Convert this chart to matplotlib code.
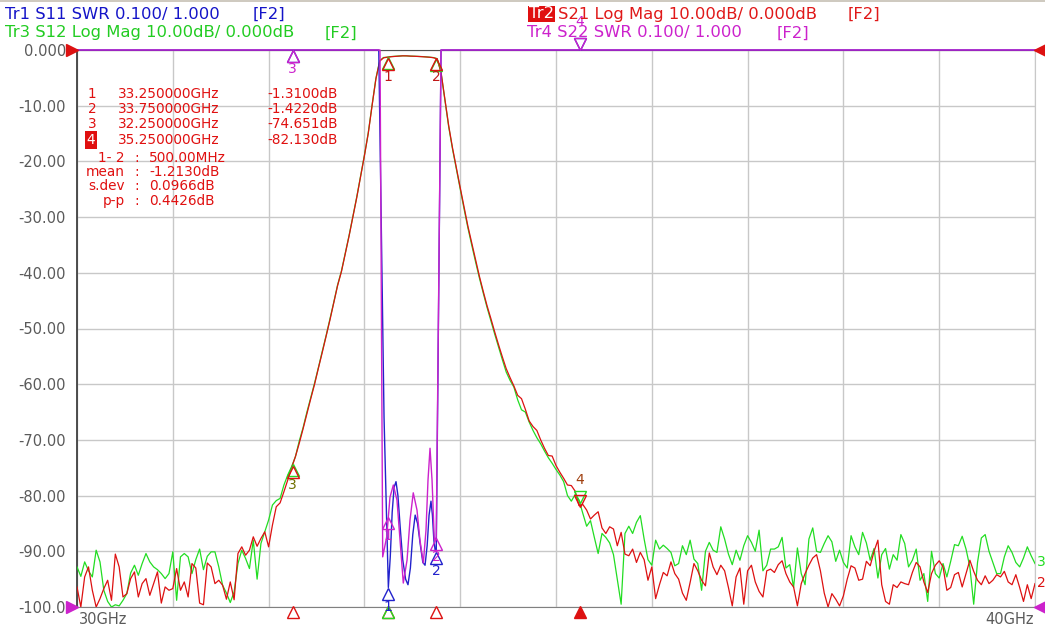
import numpy as np
import matplotlib.pyplot as plt
from matplotlib.transforms import offset_copy
from matplotlib.patches import Rectangle

plt.rcParams['font.family'] = ['DejaVu Sans']
plt.rcParams['axes.unicode_minus'] = False

W, H = 1045, 628

# sweep 30 - 40 GHz
f_start, f_stop = 30.0, 40.0

# Tr2 S21 log mag (dB)
s21_db = [
    -96.4, -100, -94.6, -92.8, -97.0, -100, -98.5, -96.7, -95.2, -98.8,
    -90.5, -92.8, -98.2, -97.6, -94.9, -93.7, -98.2, -95.8, -94.9, -97.9,
    -95.8, -93.7, -99.3, -96.4, -97.0, -96.7, -93.1, -97.0, -95.5, -98.2,
    -92.2, -93.0, -99.3, -99.6, -92.1, -92.8, -95.8, -95.2, -96.1, -98.6,
    -95.5, -98.7, -90.4, -89.2, -90.7, -89.8, -87.4, -89.1, -87.7, -86.5,
    -89.2, -85.3, -82.0, -81.3, -79.3, -77.2, -75.0, -73.0, -70.6, -68.0,
    -65.3, -62.6, -60.0, -57.1, -54.3, -51.4, -48.5, -45.4, -42.3, -39.8,
    -36.6, -33.4, -30.0, -26.5, -22.8, -19.0, -15.0, -10.0, -5.2, -2.0,
    -1.4, -1.3, -1.2, -1.15, -1.1, -1.05, -1.05, -1.1, -1.12, -1.15,
    -1.2, -1.25, -1.3, -1.38, -1.6, -4.0, -8.8, -13.6, -17.6, -21.2,
    -24.7, -28.2, -31.6, -34.6, -37.6, -40.6, -43.3, -45.9, -48.2, -50.6,
    -52.9, -55.1, -57.2, -58.8, -60.3, -62.0, -62.6, -64.5, -66.6, -67.6,
    -68.3, -70.0, -71.5, -72.8, -72.9, -74.6, -75.8, -76.9, -78.1, -78.2,
    -79.2, -81.8, -81.6, -82.6, -84.2, -83.5, -82.9, -85.8, -86.8, -85.6,
    -86.0, -89.0, -86.6, -90.5, -90.8, -89.6, -92.0, -90.2, -91.5, -95.2,
    -92.8, -98.5, -96.0, -93.8, -94.4, -91.9, -94.0, -95.0, -97.5, -98.8,
    -95.6, -92.2, -93.5, -95.2, -96.2, -90.3, -92.8, -94.2, -92.5, -93.5,
    -96.5, -99.8, -94.6, -93.0, -99.5, -93.5, -92.5, -95.5, -97.2, -98.2,
    -93.5, -93.2, -93.8, -92.4, -91.7, -94.0, -95.5, -96.4, -99.8, -95.8,
    -94.0, -92.5, -91.2, -90.6, -93.5, -97.5, -100, -97.6, -98.6, -99.8,
    -98.0, -95.0, -92.6, -93.0, -95.2, -95.0, -91.8, -92.6, -90.0, -88.0,
    -96.0, -99.0, -99.5, -96.0, -96.5, -95.5, -95.8, -96.0, -93.8, -92.0,
    -92.8, -95.5, -97.4, -94.0, -92.5, -91.7, -92.8, -97.0, -96.5, -94.2,
    -93.8, -96.4, -94.0, -91.6, -93.6, -95.2, -96.0, -94.4, -95.8, -95.2,
    -94.2, -94.6, -93.6, -95.5, -96.0, -94.2, -96.5, -99.0, -96.0, -98.5, -95.8,
]

# Tr3 S12 log mag (dB)
s12_db = [
    -92.8, -94.5, -91.9, -93.5, -94.6, -89.8, -91.9, -97.0, -99.0, -100,
    -99.6, -99.8, -98.8, -97.6, -93.9, -92.5, -94.3, -92.2, -90.4, -91.9,
    -92.8, -93.3, -94.0, -94.9, -94.0, -90.1, -98.8, -91.0, -90.4, -91.0,
    -94.0, -91.5, -89.6, -93.3, -90.9, -90.1, -90.1, -92.8, -96.1, -97.5,
    -99.2, -97.3, -92.2, -89.8, -91.3, -93.1, -88.0, -95.0, -88.6, -86.5,
    -84.4, -81.7, -80.9, -80.5, -78.1, -76.3, -74.8, -73.0, -70.2, -67.8,
    -65.0, -62.4, -59.8, -57.0, -54.1, -51.3, -48.3, -45.3, -42.2, -39.7,
    -36.5, -33.3, -29.9, -26.4, -22.7, -18.9, -14.9, -9.9, -5.1, -1.9,
    -1.35, -1.28, -1.18, -1.12, -1.08, -1.04, -1.06, -1.1, -1.12, -1.16,
    -1.18, -1.22, -1.28, -1.36, -1.55, -4.1, -8.9, -13.8, -17.8, -21.4,
    -25.0, -28.5, -31.9, -35.0, -38.0, -40.9, -43.6, -46.2, -48.6, -51.0,
    -53.3, -55.6, -57.8, -59.3, -60.5, -62.8, -64.6, -65.0, -66.8, -68.3,
    -69.6, -70.7, -72.0, -73.2, -74.2, -75.3, -76.3, -77.5, -80.0, -81.0,
    -79.8, -80.8, -83.2, -85.5, -84.5, -87.5, -90.4, -86.8, -87.5, -88.5,
    -90.6, -95.0, -99.5, -86.8, -85.5, -86.8, -84.8, -83.6, -87.8, -91.5,
    -92.5, -88.0, -89.6, -88.9, -89.5, -90.2, -92.6, -92.2, -89.0, -90.6,
    -88.0, -91.4, -92.2, -97.0, -90.0, -88.4, -89.8, -90.2, -85.6, -87.8,
    -90.5, -92.4, -89.8, -91.6, -89.0, -87.2, -88.4, -90.0, -86.2, -93.5,
    -92.5, -89.6, -89.6, -89.2, -87.5, -93.0, -92.4, -96.5, -89.4, -94.0,
    -96.0, -87.8, -85.8, -90.0, -90.2, -88.6, -87.2, -88.3, -91.8, -89.8,
    -92.0, -93.0, -87.2, -89.2, -90.6, -86.6, -88.5, -91.6, -89.5, -94.8,
    -90.6, -89.5, -93.2, -90.6, -91.6, -87.0, -88.6, -92.8, -91.6, -89.6,
    -95.2, -94.0, -99.0, -90.0, -94.0, -94.8, -92.2, -94.6, -91.8, -88.8,
    -89.0, -87.3, -89.6, -92.8, -99.5, -92.0, -87.6, -87.0, -90.0, -92.0,
    -94.0, -94.0, -91.0, -89.0, -90.2, -92.0, -92.8, -91.2, -89.2, -90.8, -92.2,
]

# Tr1 S11 SWR (off screen above 2.0)
s11_f = [30.0, 33.15, 33.205, 33.25, 33.27, 33.29, 33.31, 33.33, 33.35, 33.375,
         33.40, 33.43, 33.455, 33.48, 33.505, 33.53, 33.555, 33.585, 33.61, 33.633,
         33.655, 33.675, 33.695, 33.71, 33.725, 33.74, 33.75, 33.80, 40.0]
s11_swr = [3.0, 3.0, 1.34, 1.035, 1.09, 1.17, 1.215, 1.225, 1.20, 1.14,
           1.085, 1.05, 1.04, 1.07, 1.13, 1.165, 1.15, 1.11, 1.08, 1.075,
           1.11, 1.165, 1.19, 1.165, 1.12, 1.10, 1.10, 3.0, 3.0]

# Tr4 S22 SWR
s22_f = [30.0, 33.163, 33.191, 33.233, 33.267, 33.302, 33.34, 33.372, 33.406, 33.445,
         33.476, 33.51, 33.549, 33.58, 33.615, 33.643, 33.664, 33.685, 33.706, 33.73,
         33.75, 33.80, 40.0]
s22_swr = [3.0, 3.0, 1.09, 1.126, 1.197, 1.219, 1.192, 1.12, 1.043, 1.084,
           1.156, 1.205, 1.174, 1.12, 1.079, 1.138, 1.228, 1.285, 1.228, 1.12,
           1.125, 3.0, 3.0]

marker_f = [33.25, 33.75, 32.25, 35.25]
marker_db = [-1.31, -1.422, -74.651, -82.13]
marker_f_txt = ['33.250000GHz', '33.750000GHz', '32.250000GHz', '35.250000GHz']
marker_v_txt = ['-1.3100dB', '-1.4220dB', '-74.651dB', '-82.130dB']
stats_keys = ['1- 2', 'mean', 's.dev', 'p-p']
stats_vals = ['500.00MHz', '-1.2130dB', '0.0966dB', '0.4426dB']

ytick_vals = [0, -10, -20, -30, -40, -50, -60, -70, -80, -90, -100]
ytick_txt = ['0.000', '-10.00', '-20.00', '-30.00', '-40.00', '-50.00',
             '-60.00', '-70.00', '-80.00', '-90.00', '-100.0']

RED = '#dd1111'
GREEN = '#22dd22'
BLUE = '#2222cc'
MAG = '#cc22cc'
GRAY = '#5a5a5a'

freq = np.linspace(f_start, f_stop, len(s21_db))


def to_disp(swr):
    # SWR 0.100/div, ref 1.000 at the bottom line
    return -100 + (np.clip(np.asarray(swr, dtype=float), 1.0, 2.0) - 1.0) * 100


def px(x, y):
    return x / W, 1 - y / H


fig = plt.figure(figsize=(W / 100, H / 100), dpi=100)
fig.patch.set_facecolor('white')
fig.add_artist(Rectangle((0, 1 - 2 / H), 1, 2 / H, transform=fig.transFigure,
                         facecolor='#cfcac0', edgecolor='none'))

ax = fig.add_axes([77 / W, 1 - 607 / H, (1035 - 77) / W, (607 - 50) / H])
ax.set_xlim(f_start, f_stop)
ax.set_ylim(-100, 0)
ax.set_xticks(np.arange(30, 41, 1))
ax.set_xticklabels([])
ax.set_yticks(ytick_vals)
ax.set_yticklabels(ytick_txt)
ax.grid(color='#c8c8c8', lw=1.0, zorder=0)
ax.set_axisbelow(True)
ax.tick_params(length=0, labelsize=10.5, labelcolor=GRAY, pad=8)
ax.spines['right'].set_color('#c8c8c8')
ax.spines['top'].set_color('#505050')
ax.spines['left'].set_color('#404040')
ax.spines['left'].set_linewidth(1.3)
ax.spines['bottom'].set_color('#808080')

ax.plot(freq, s12_db, color=GREEN, lw=0.9, zorder=3)
ax.plot(freq, s21_db, color=RED, lw=0.9, zorder=4)
ax.plot(s11_f, to_disp(s11_swr), color=BLUE, lw=1.0, zorder=5, clip_on=False)
ax.plot(s22_f, to_disp(s22_swr), color=MAG, lw=1.0, zorder=6, clip_on=False)

MS = 9


def mark(f, v, color, label, lcolor, active=False, fs=10):
    if active:
        tr = offset_copy(ax.transData, fig=fig, x=0, y=MS / 2, units='points')
        trl = offset_copy(ax.transData, fig=fig, x=0, y=MS + 11, units='points')
        m = 'v'
    else:
        tr = offset_copy(ax.transData, fig=fig, x=0, y=-MS / 2, units='points')
        trl = offset_copy(ax.transData, fig=fig, x=0, y=-MS - 5, units='points')
        m = '^'
    ax.plot([f], [v], marker=m, ms=MS, mfc='none', mec=color, mew=1.0,
            transform=tr, clip_on=False, zorder=8)
    if label:
        ax.text(f, v, label, transform=trl, ha='center', va='center',
                color=lcolor, fontsize=fs, clip_on=False, zorder=9)


# trace markers
s12_at = np.interp(marker_f, freq, s12_db)
s11_at = to_disp(np.interp(marker_f, s11_f, s11_swr))
s22_at = to_disp(np.interp(marker_f, s22_f, s22_swr))
lab_cols = ['#c01818', '#c01818', '#707000', '#a04010']
for k in range(4):
    act = k == 3
    mark(marker_f[k], s12_at[k], GREEN, None, None, act)
    mark(marker_f[k], marker_db[k], RED, str(k + 1), lab_cols[k], act)
    # S11 markers 3 and 4 sit off screen under the S22 ones
    mark(marker_f[k], s11_at[k], BLUE, str(k + 1) if k < 2 else None, BLUE, act)
    mark(marker_f[k], s22_at[k], MAG, str(k + 1), MAG, act)

# stimulus markers under the axis
for k in range(4):
    tr = offset_copy(ax.transData, fig=fig, x=0, y=-MS / 2 + 1, units='points')
    if k == 3:
        ax.plot([marker_f[k]], [-100], marker='^', ms=MS, mfc=RED, mec=RED,
                transform=tr, clip_on=False, zorder=8)
    else:
        ax.plot([marker_f[k]], [-100], marker='^', ms=MS, mfc='none', mec=RED,
                mew=1.0, transform=tr, clip_on=False, zorder=8)
tr = offset_copy(ax.transData, fig=fig, x=0, y=-MS / 2 + 1, units='points')
ax.plot([marker_f[0]], [-100], marker='^', ms=MS - 1, mfc='none', mec=GREEN,
        mew=1.0, transform=tr, clip_on=False, zorder=8)

# reference position arrows
trl = offset_copy(ax.transData, fig=fig, x=-3.5, y=0, units='points')
trr = offset_copy(ax.transData, fig=fig, x=3.5, y=0, units='points')
ax.plot([f_start], [0], marker='>', ms=MS, color=RED, transform=trl, clip_on=False, zorder=9)
ax.plot([f_start], [-100], marker='>', ms=MS, color=MAG, transform=trl, clip_on=False, zorder=9)
ax.plot([f_stop], [0], marker='<', ms=MS, color=RED, transform=trr, clip_on=False, zorder=9)
ax.plot([f_stop], [-100], marker='<', ms=MS, color=MAG, transform=trr, clip_on=False, zorder=9)

# trace end labels
fig.text(*px(1037, 562), '3', color=GREEN, fontsize=10, va='center', ha='left')
fig.text(*px(1037, 583), '2', color=RED, fontsize=10, va='center', ha='left')

# header
HF = 11.8
fig.text(*px(5, 14), 'Tr1 S11 SWR 0.100/ 1.000', color='#1414c8', fontsize=HF, va='center')
fig.text(*px(253, 14), '[F2]', color='#1414c8', fontsize=HF, va='center')
fig.text(*px(5, 33), 'Tr3 S12 Log Mag 10.00dB/ 0.000dB', color='#22cc22', fontsize=HF, va='center')
fig.text(*px(325, 33), '[F2]', color='#22cc22', fontsize=HF, va='center')
fig.text(*px(529, 14), 'Tr2', color='white', fontsize=HF, va='center',
         bbox=dict(facecolor='#e01010', edgecolor='none', pad=0.6))
fig.text(*px(558, 14), 'S21 Log Mag 10.00dB/ 0.000dB', color='#e01818', fontsize=HF, va='center')
fig.text(*px(848, 14), '[F2]', color='#e01818', fontsize=HF, va='center')
fig.text(*px(527, 33), 'Tr4 S22 SWR 0.100/ 1.000', color=MAG, fontsize=HF, va='center')
fig.text(*px(777, 33), '[F2]', color=MAG, fontsize=HF, va='center')

# marker table
TF = 9.8
TC = '#e01010'
rows_y = [94, 109, 124, 140]
for k in range(4):
    if k == 3:
        fig.text(*px(91, rows_y[k]), str(k + 1), color='white', fontsize=TF, va='center', ha='center',
                 bbox=dict(facecolor='#e01010', edgecolor='none', pad=1.2))
    else:
        fig.text(*px(92, rows_y[k]), str(k + 1), color=TC, fontsize=TF, va='center', ha='center')
    fig.text(*px(118, rows_y[k]), marker_f_txt[k], color=TC, fontsize=TF, va='center')
    fig.text(*px(338, rows_y[k]), marker_v_txt[k], color=TC, fontsize=TF, va='center', ha='right')

stats_y = [158, 172, 186, 201]
for k in range(4):
    fig.text(*px(125, stats_y[k]), stats_keys[k], color=TC, fontsize=TF, va='center', ha='right')
    fig.text(*px(137, stats_y[k]), ':', color=TC, fontsize=TF, va='center', ha='center')
    fig.text(*px(149, stats_y[k]), stats_vals[k], color=TC, fontsize=TF, va='center')

# stimulus labels
fig.text(*px(79, 620), '30GHz', color=GRAY, fontsize=10.5, va='center')
fig.text(*px(1034, 619), '40GHz', color=GRAY, fontsize=10.5, va='center', ha='right')

fig.savefig('out.png', dpi=100)
